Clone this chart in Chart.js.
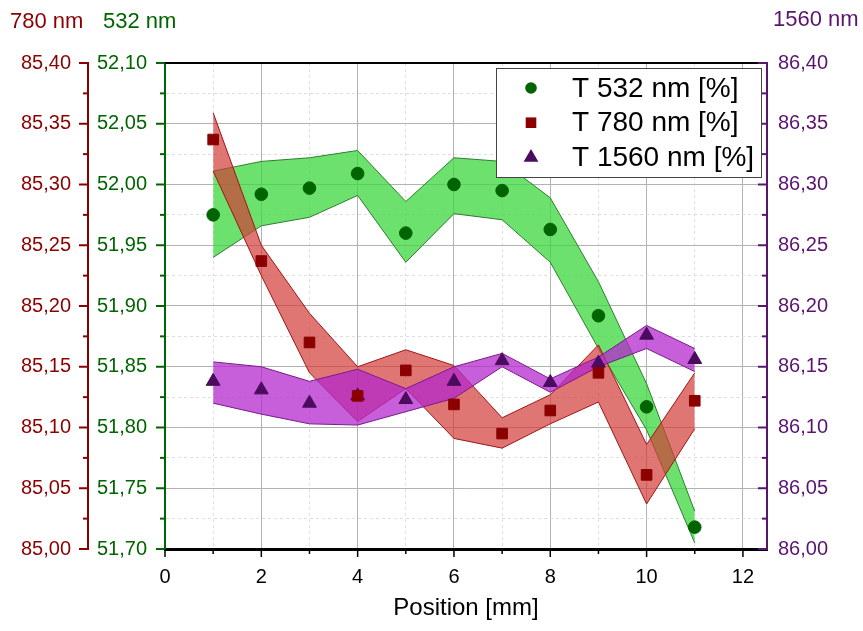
<!DOCTYPE html>
<html>
<head>
<meta charset="utf-8">
<title>Transmission vs position</title>
<script src="https://cdn.jsdelivr.net/npm/chart.js@4.4.1/dist/chart.umd.min.js"></script>
<style>
  html, body { margin: 0; padding: 0; background: #fff; }
  #wrap { position: relative; width: 863px; height: 631px; }
</style>
</head>
<body>
<div id="wrap"><canvas id="chart"></canvas></div>
<script>
// positions along the sample [mm]
const positions = [1, 2, 3, 4, 5, 6, 7, 8, 9, 10, 11];

// transmission at 532 nm [%] with its error band
const t532      = [51.975, 51.992, 51.997, 52.009, 51.960, 52.000, 51.995, 51.963, 51.892, 51.817, 51.718];
const t532Upper = [52.011, 52.019, 52.022, 52.028, 51.986, 52.022, 52.019, 51.989, 51.920, 51.836, 51.731];
const t532Lower = [51.940, 51.966, 51.973, 51.991, 51.936, 51.976, 51.971, 51.936, 51.865, 51.798, 51.705];

// transmission at 780 nm [%]
const t780      = [85.337, 85.237, 85.170, 85.126, 85.147, 85.119, 85.095, 85.114, 85.145, 85.061, 85.122];
const t780Upper = [85.359, 85.250, 85.194, 85.150, 85.164, 85.151, 85.108, 85.127, 85.168, 85.086, 85.145];
const t780Lower = [85.311, 85.225, 85.145, 85.105, 85.132, 85.091, 85.083, 85.103, 85.121, 85.037, 85.099];

// transmission at 1560 nm [%]
const t1560      = [86.138, 86.131, 86.120, 86.126, 86.123, 86.138, 86.155, 86.137, 86.153, 86.176, 86.156];
const t1560Upper = [86.154, 86.150, 86.138, 86.148, 86.132, 86.150, 86.161, 86.140, 86.158, 86.184, 86.165];
const t1560Lower = [86.120, 86.111, 86.103, 86.102, 86.113, 86.124, 86.150, 86.129, 86.150, 86.165, 86.146];

// axis ranges
const xRange     = [0, 12.5];
const y532Range  = [51.70, 52.10];
const y780Range  = [85.00, 85.40];
const y1560Range = [86.00, 86.40];

const FONT = '"Liberation Sans", Arial, sans-serif';
const GREEN = '#006400', RED = '#8b0000', PURPLE = '#4b0b5e', PURPLE_AXIS = '#5a1470';
const MAJOR_GRID = '#b2b2b2', MINOR_GRID = '#dedede';

Chart.defaults.font.family = FONT;

const pts = (ys) => positions.map((x, i) => ({ x: x, y: ys[i] }));
const isMajorY = (v) => Math.round(v * 1000) % 50 === 0;
const fmtY = (v) => isMajorY(v) ? v.toFixed(2).replace('.', ',') : '';

function band(upper, lower, axis, fillColor, edgeColor, order) {
  const common = { yAxisID: axis, borderColor: edgeColor, borderWidth: 1, pointRadius: 0,
                   pointHitRadius: 0, tension: 0, order: order };
  return [
    Object.assign({ label: 'lower', data: pts(lower), fill: false }, common),
    Object.assign({ label: 'upper', data: pts(upper), fill: '-1', backgroundColor: fillColor }, common)
  ];
}

function markerSet(label, ys, axis, style, radius, color) {
  return { label: label, data: pts(ys), yAxisID: axis, showLine: false, pointStyle: style,
           pointRadius: radius, pointBackgroundColor: color, pointBorderColor: color,
           pointBorderWidth: 1, order: 0 };
}

function yAxis(range, position, weight, width, color, padding, withGrid) {
  return {
    type: 'linear', position: position, weight: weight, min: range[0], max: range[1],
    afterFit: (s) => { s.width = width; },
    ticks: { stepSize: 0.025, autoSkip: false, padding: padding, color: color,
             font: { size: 20 }, callback: (v) => fmtY(v) },
    grid: withGrid
      ? { drawTicks: false, lineWidth: 1,
          color: (c) => c.tick && isMajorY(c.tick.value) ? MAJOR_GRID : MINOR_GRID }
      : { display: false, drawTicks: false },
    border: { color: color, width: 2,
              dash: (c) => c.tick && !isMajorY(c.tick.value) ? [3, 3] : [] }
  };
}

function drawMarker(ctx, style, x, y, r, color) {
  ctx.fillStyle = color;
  ctx.beginPath();
  if (style === 'circle') {
    ctx.arc(x, y, r, 0, Math.PI * 2);
  } else if (style === 'rect') {
    const s = r * Math.SQRT1_2;
    ctx.rect(x - s, y - s, 2 * s, 2 * s);
  } else {
    ctx.moveTo(x, y - r);
    ctx.lineTo(x + r * 0.866, y + r * 0.5);
    ctx.lineTo(x - r * 0.866, y + r * 0.5);
    ctx.closePath();
  }
  ctx.fill();
}

function seg(ctx, x1, y1, x2, y2) {
  ctx.beginPath(); ctx.moveTo(x1, y1); ctx.lineTo(x2, y2); ctx.stroke();
}

// frame top, tick marks, axis captions and the boxed legend
const decorations = {
  id: 'decorations',
  afterDraw(chart) {
    const { ctx, chartArea: a, scales } = chart;
    ctx.save();

    ctx.strokeStyle = '#000'; ctx.lineWidth = 2;
    seg(ctx, a.left, a.top, a.right, a.top);

    // x ticks point down
    ctx.lineWidth = 1.5;
    scales.x.ticks.forEach((t) => {
      const px = scales.x.getPixelForValue(t.value);
      seg(ctx, px, a.bottom, px, a.bottom + (t.value % 2 === 0 ? 8 : 5));
    });

    // y ticks all point to the left of their axis line
    [['y780', RED, 'right'], ['y532', GREEN, 'right'], ['y1560', PURPLE_AXIS, 'left']].forEach(([id, col, edge]) => {
      const s = scales[id];
      const x0 = s[edge];
      ctx.strokeStyle = col; ctx.lineWidth = 2;
      s.ticks.forEach((t) => {
        const py = s.getPixelForValue(t.value);
        seg(ctx, x0 - (isMajorY(t.value) ? 9 : 5), py, x0, py);
      });
    });

    // axis captions above the axes
    ctx.font = '22px ' + FONT;
    ctx.textBaseline = 'middle';
    ctx.textAlign = 'left';
    ctx.fillStyle = RED;         ctx.fillText('780 nm', scales.y780.left + 10, 22);
    ctx.fillStyle = GREEN;       ctx.fillText('532 nm', scales.y532.left + 15, 22);
    ctx.fillStyle = PURPLE_AXIS; ctx.fillText('1560 nm', scales.y1560.left + 6, 20);

    // legend
    const lx = a.right - 271, ly = a.top + 5, lw = 265, lh = 109;
    ctx.fillStyle = '#fff';
    ctx.fillRect(lx, ly, lw, lh);
    ctx.strokeStyle = '#444'; ctx.lineWidth = 1;
    ctx.strokeRect(lx + 0.5, ly + 0.5, lw, lh);
    const entries = [
      ['T 532 nm [%]', 'circle', 5.8, GREEN],
      ['T 780 nm [%]', 'rect', 7.5, RED],
      ['T 1560 nm [%]', 'triangle', 8.5, PURPLE]
    ];
    ctx.font = '28px ' + FONT;
    entries.forEach(([text, style, r, col], i) => {
      const cy = ly + 20 + i * 34.7;
      drawMarker(ctx, style, lx + 35, cy, r, col);
      ctx.fillStyle = '#000';
      ctx.fillText(text, lx + 76, cy + 1);
    });

    ctx.restore();
  }
};

new Chart(document.getElementById('chart'), {
  type: 'line',
  data: {
    datasets: [
      markerSet('T 532 nm [%]', t532, 'y532', 'circle', 6.3, GREEN),
      markerSet('T 780 nm [%]', t780, 'y780', 'rect', 7.5, RED),
      markerSet('T 1560 nm [%]', t1560, 'y1560', 'triangle', 8, PURPLE),
      ...band(t1560Upper, t1560Lower, 'y1560', 'rgba(180,40,205,0.75)', '#7a1a8a', 1),
      ...band(t780Upper, t780Lower, 'y780', 'rgba(210,60,55,0.7)', '#a01515', 2),
      ...band(t532Upper, t532Lower, 'y532', 'rgba(60,215,60,0.75)', '#2e7d2e', 3)
    ]
  },
  options: {
    responsive: true,
    maintainAspectRatio: false,
    animation: false,
    events: [],
    layout: { padding: { top: 63, left: 0, right: 0, bottom: 0 } },
    plugins: {
      legend: { display: false },
      tooltip: { enabled: false }
    },
    scales: {
      x: {
        type: 'linear', position: 'bottom', min: xRange[0], max: xRange[1],
        afterFit: (s) => { s.height = 82; },
        ticks: { stepSize: 1, includeBounds: false, autoSkip: false, maxRotation: 0, padding: 16,
                 color: '#000', font: { size: 20 },
                 callback: (v) => (v % 2 === 0 ? String(v) : '') },
        grid: { drawTicks: false, lineWidth: 1,
                color: (c) => c.tick && c.tick.value % 2 === 0 ? MAJOR_GRID : MINOR_GRID },
        border: { color: '#000', width: 3,
                  dash: (c) => c.tick && c.tick.value % 2 !== 0 ? [3, 3] : [] },
        title: { display: true, text: 'Position [mm]', color: '#000',
                 font: { size: 24 }, padding: { top: 0, bottom: 8 } }
      },
      y780: yAxis(y780Range, 'left', 2, 88, RED, 17, false),
      y532: yAxis(y532Range, 'left', 1, 77, GREEN, 18, true),
      y1560: yAxis(y1560Range, 'right', 1, 96, PURPLE_AXIS, 11, false)
    }
  },
  plugins: [decorations]
});
</script>
</body>
</html>
